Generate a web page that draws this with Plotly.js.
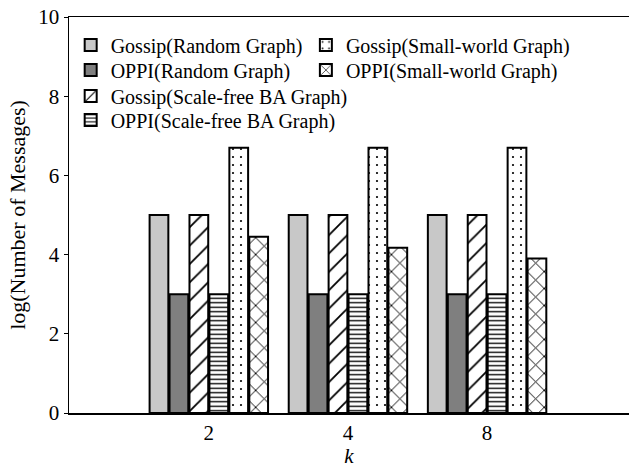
<!DOCTYPE html>
<html>
<head>
<meta charset="utf-8">
<script src="https://cdn.plot.ly/plotly-3.0.1.min.js"></script>
<style>html,body{margin:0;padding:0;background:#fff;}#chart{width:629px;height:468px;}</style>
</head>
<body>
<div id="chart"></div>
<script>
const kLabels = ['2', '4', '8'];
const gossipRandom = [5, 5, 5];
const oppiRandom = [3, 3, 3];
const gossipScaleFree = [5, 5, 5];
const oppiScaleFree = [3, 3, 3];
const gossipSmallWorld = [6.7, 6.7, 6.7];
const oppiSmallWorld = [4.45, 4.17, 3.9];
const seriesNames = [
  'Gossip(Random Graph)',
  'OPPI(Random Graph)',
  'Gossip(Scale-free BA Graph)',
  'OPPI(Scale-free BA Graph)',
  'Gossip(Small-world Graph)',
  'OPPI(Small-world Graph)'
];

const line = {color: '#000', width: 2};
function bar(name, y, marker, legend) {
  return {type: 'bar', name: name, x: kLabels, y: y, legend: legend,
          marker: Object.assign({line: line}, marker)};
}
const data = [
  bar(seriesNames[0], gossipRandom, {color: '#c8c8c8'}, 'legend'),
  bar(seriesNames[1], oppiRandom, {color: '#7f7f7f'}, 'legend2'),
  bar(seriesNames[2], gossipScaleFree, {color: '#fff', pattern: {shape: '/', fgcolor: '#000', bgcolor: '#fff', size: 13, solidity: 0.14}}, 'legend3'),
  bar(seriesNames[3], oppiScaleFree, {color: '#fff', pattern: {shape: '-', fgcolor: '#000', bgcolor: '#fff', size: 4.5, solidity: 0.3}}, 'legend4'),
  bar(seriesNames[4], gossipSmallWorld, {color: '#fff', pattern: {shape: '.', fgcolor: '#000', bgcolor: '#fff', size: 8, solidity: 0.06}}, 'legend5'),
  bar(seriesNames[5], oppiSmallWorld, {color: '#fff', pattern: {shape: 'x', fgcolor: '#000', bgcolor: '#fff', size: 12, solidity: 0.15}}, 'legend6')
];

const font = {family: 'Liberation Serif, Times New Roman, serif', size: 21, color: '#000'};
function lg(x, y) {
  return {
    font: {family: font.family, size: 20, color: '#000'},
    bgcolor: 'rgba(0,0,0,0)', borderwidth: 0,
    xref: 'paper', yref: 'paper', xanchor: 'left', yanchor: 'middle',
    x: x, y: y, itemwidth: 30
  };
}
const col1 = 0.003, col2 = 0.423;
const layout = {
  width: 629, height: 468,
  margin: {l: 69, r: 0, t: 17, b: 55},
  paper_bgcolor: '#fff', plot_bgcolor: '#fff',
  font: font,
  barmode: 'group', bargap: 0.14, bargroupgap: 0.06,
  showlegend: true,
  legend: lg(col1, 0.929),
  legend2: lg(col1, 0.866),
  legend3: lg(col1, 0.8005),
  legend4: lg(col1, 0.740),
  legend5: lg(col2, 0.929),
  legend6: lg(col2, 0.866),
  xaxis: {
    type: 'category', range: [-1.005, 3.02],
    showline: true, linecolor: '#000', linewidth: 1.5, mirror: true,
    ticks: '', showgrid: false, zeroline: false,
    tickfont: font,
    title: {text: '<i>k</i>', font: font, standoff: 3}
  },
  yaxis: {
    range: [0, 10], tickvals: [0, 2, 4, 6, 8, 10],
    showline: true, linecolor: '#000', linewidth: 1.5,
    ticks: 'outside', ticklen: 4, tickwidth: 1, tickcolor: '#000',
    showgrid: false, zeroline: false,
    tickfont: font,
    title: {text: 'log(Number of Messages)', font: {family: font.family, size: 22, color: '#000'}, standoff: 6}
  }
};
Plotly.newPlot('chart', data, layout, {displayModeBar: false, staticPlot: true});
</script>
</body>
</html>
